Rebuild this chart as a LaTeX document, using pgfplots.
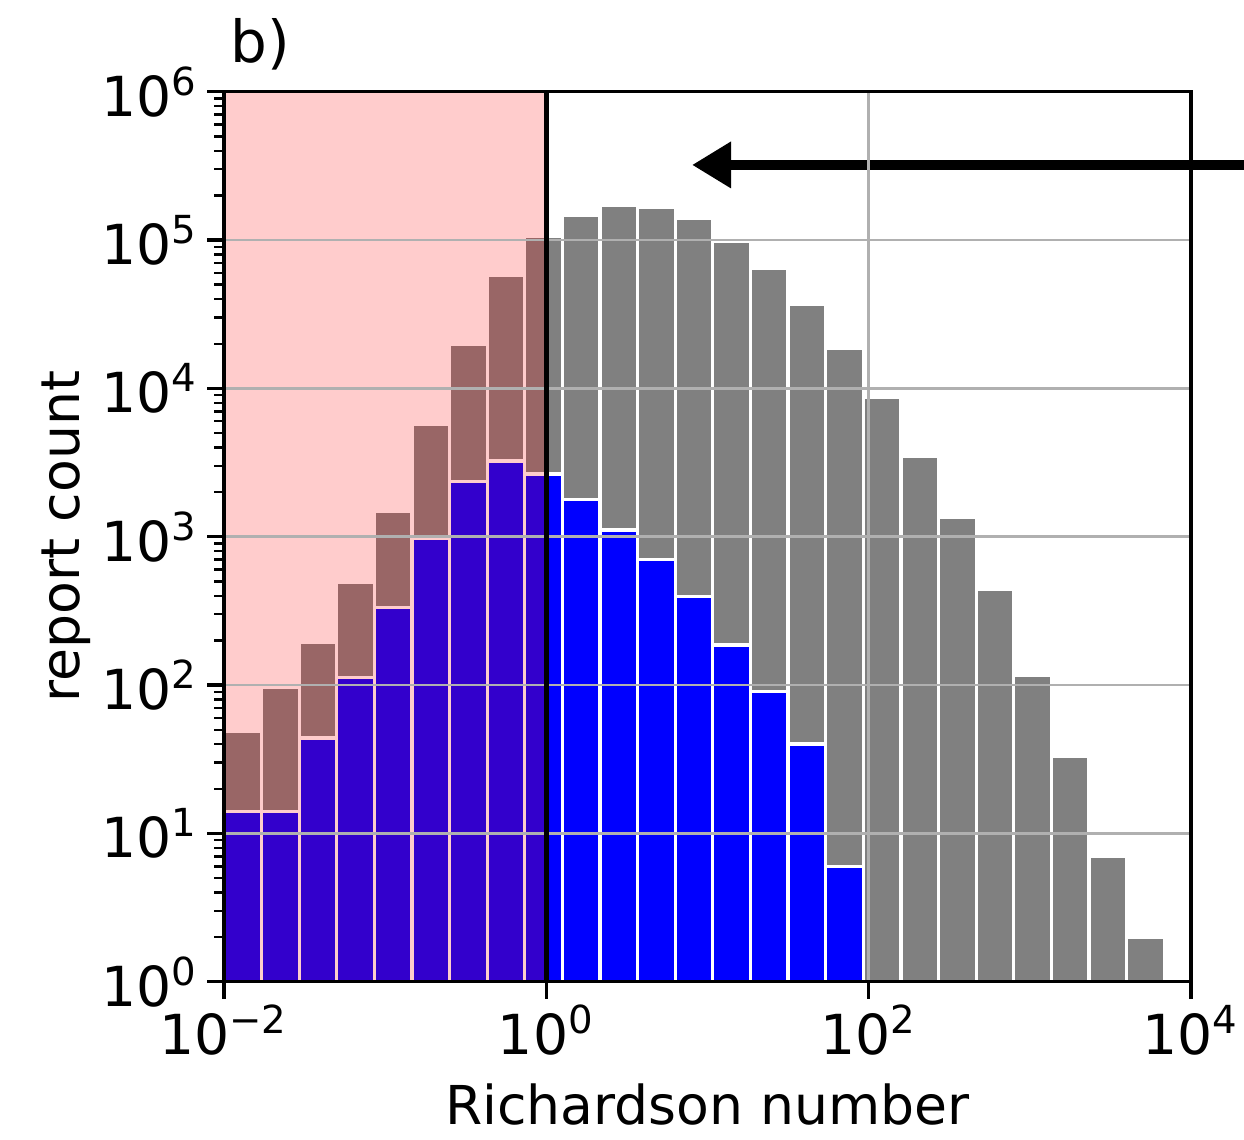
\documentclass[border=0pt]{standalone}
\usepackage{fontspec}
\setmainfont{DejaVu Sans}
\usepackage{pgfplots}
\pgfplotsset{compat=1.18}
\usetikzlibrary{arrows.meta}

\definecolor{histgray}{HTML}{808080}
\definecolor{histblue}{HTML}{0000FF}
\definecolor{gridgray}{HTML}{B0B0B0}

\pgfplotstableread{
x y
0.01 49
0.017113 97
0.029286 193
0.050119 490
0.085770 1490
0.14678 5730
0.25119 19800
0.42987 58100
0.73564 105000
1.2589 146000
2.1544 170000
3.6869 165000
6.3096 139000
10.798 97500
18.478 64100
31.623 36900
54.117 18600
92.612 8650
158.49 3500
271.23 1343
464.16 442
794.33 117
1359.4 33
2326.3 7
3981.1 2
6812.9 2
}\totaltab

\pgfplotstableread{
x y
0.01 14
0.017113 14
0.029286 44
0.050119 113
0.085770 332
0.14678 975
0.25119 2350
0.42987 3240
0.73564 2650
1.2589 1790
2.1544 1110
3.6869 704
6.3096 394
10.798 186
18.478 90
31.623 40
54.117 6
92.612 6
}\subtab

\begin{document}
\begin{tikzpicture}[font=\fontsize{13.8}{16.5}\selectfont]
\begin{axis}[
  set layers,
  axis on top,
  scale only axis,
  width=241.75pt, height=222.5pt,
  xmode=log, ymode=log,
  xmin=0.01, xmax=10000, ymin=1, ymax=1000000,
  xtick={0.01,1,100,10000},
  xticklabels={10\textsuperscript{−2},10\textsuperscript{0},10\textsuperscript{2},10\textsuperscript{4}},
  ytick={1,10,100,1000,10000,100000,1000000},
  yticklabels={10\textsuperscript{0},10\textsuperscript{1},10\textsuperscript{2},10\textsuperscript{3},10\textsuperscript{4},10\textsuperscript{5},10\textsuperscript{6}},
  minor ytick={2,3,4,5,6,7,8,9,20,30,40,50,60,70,80,90,200,300,400,500,600,700,800,900,2000,3000,4000,5000,6000,7000,8000,9000,20000,30000,40000,50000,60000,70000,80000,90000,200000,300000,400000,500000,600000,700000,800000,900000},
  xminorticks=false,
  tick align=outside,
  tick pos=left,
  major tick length=4.2pt,
  minor tick length=2.4pt,
  major tick style={black, line width=0.8pt},
  minor tick style={black, line width=0.6pt},
  xmajorgrids=true, ymajorgrids=true,
  major grid style={gridgray, line width=0.65pt},
  axis line style={black, line width=0.8pt},
  clip=false,
  xlabel={Richardson number},
  ylabel={report count},
  xlabel style={at={(axis description cs:0.5,-0.1385)}, anchor=center, inner sep=0pt, font=\fontsize{13.4}{16}\selectfont},
  ylabel style={at={(axis description cs:-0.163,0.5)}, anchor=center, inner sep=0pt, font=\fontsize{13.4}{16}\selectfont},
  yticklabel style={inner sep=2pt},
  xticklabel style={inner sep=1.5pt},
]
\addplot[ybar interval, fill=histgray, draw=white, line width=0.8pt] table[x=x, y=y] {\totaltab};
\addplot[ybar interval, fill=histblue, draw=white, line width=0.8pt] table[x=x, y=y] {\subtab};
\addplot[fill=red, fill opacity=0.2, draw=none] coordinates {(0.01,1) (1,1) (1,1000000) (0.01,1000000) (0.01,1)};
\addplot[black, line width=1.1pt, on layer=axis foreground] coordinates {(1,1) (1,1000000)};
\node[anchor=base west, inner sep=0pt, font=\fontsize{14.5}{17}\selectfont] at (rel axis cs:0,1) [xshift=1.5pt, yshift=7.2pt] {b)};
\draw[black, line width=2.7pt, -{Triangle[length=9.75pt,width=11pt]}] (rel axis cs:1.0548,0.9177) -- (rel axis cs:0.484,0.9177);
\coordinate (bbSW) at (rel axis cs:-0.2316,-0.1767);
\coordinate (bbNE) at (rel axis cs:1.0548,1.1030);
\end{axis}
\pgfresetboundingbox
\useasboundingbox (bbSW) rectangle (bbNE);
\end{tikzpicture}
\end{document}
